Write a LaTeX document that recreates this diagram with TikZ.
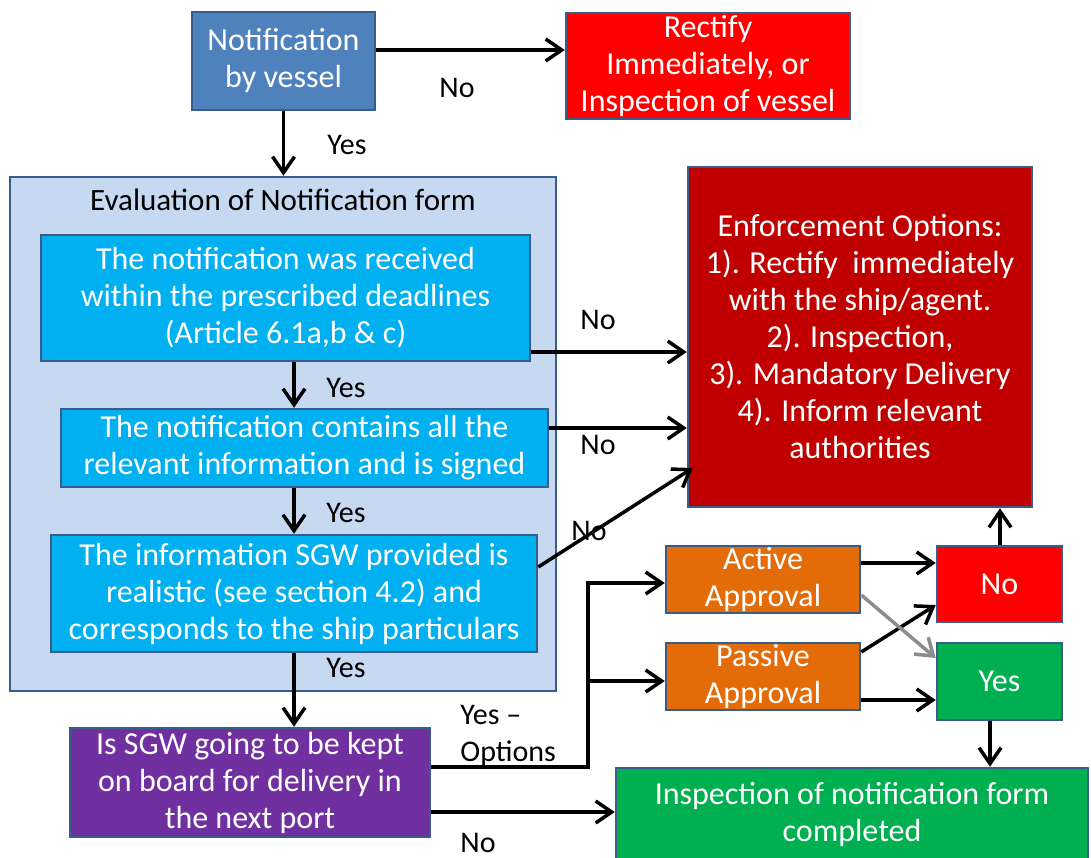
\documentclass[tikz,border=0pt]{standalone}
\usepackage{fontspec}
\setmainfont{Carlito}
\usetikzlibrary{arrows.meta}
\definecolor{bord}{RGB}{56,93,138}
\definecolor{nvblue}{RGB}{79,129,189}
\definecolor{evalbg}{RGB}{198,217,241}
\definecolor{cyanbx}{RGB}{0,176,240}
\definecolor{purbx}{RGB}{112,48,160}
\definecolor{darkred}{RGB}{192,0,0}
\definecolor{orangebx}{RGB}{227,108,9}
\definecolor{greenbx}{RGB}{0,176,80}
\definecolor{grayarr}{RGB}{140,140,140}
\newcommand\bxf{\fontsize{16}{18.5}\selectfont}
\newcommand\lbf{\fontsize{15}{18.5}\selectfont}
\newcommand\evtf{\fontsize{15.5}{18}\selectfont}
\tikzset{
  box/.style={draw=bord, line width=1.25pt, inner sep=0pt, align=center, text=white, font=\bxf},
  lbl/.style={inner sep=0pt, font=\lbf, text=black, align=left},
  arr/.style={line width=1.75pt, -{Straight Barb[length=8pt,width=11pt]}},
  garr/.style={arr, draw=grayarr},
}
\begin{document}
\begin{tikzpicture}[x=0.5pt,y=-0.5pt]
\useasboundingbox (0,0) rectangle (1091,857);
\clip (0,0) rectangle (1091,857);
\fill[white] (0,0) rectangle (1091,857);

\node[box, fill=nvblue, minimum width=91.5pt, minimum height=49pt] (nv) at (283.5,61) {Notification\\by vessel};
\node[box, fill=red, minimum width=142pt, minimum height=53pt] (rect) at (708,66) {Rectify\\Immediately, or\\Inspection of vessel};

\node[box, fill=evalbg, minimum width=273pt, minimum height=257pt] (eval) at (283,434) {};
\node[inner sep=0pt, font=\evtf, text=black] (evt) at (283,200) {Evaluation of Notification form};

\node[box, fill=cyanbx, minimum width=244.5pt, minimum height=63pt] (b1) at (285.5,298) {The notification was received\\within the prescribed deadlines\\(Article 6.1a,b \& c)};
\node[box, fill=cyanbx, minimum width=243.5pt, minimum height=39pt] (b2) at (304.5,448) {The notification contains all the\\relevant information and is signed};
\node[box, fill=cyanbx, minimum width=243pt, minimum height=58.5pt] (b3) at (294,593.5) {The information SGW provided is\\realistic (see section 4.2) and\\corresponds to the ship particulars};

\node[box, fill=purbx, minimum width=180pt, minimum height=54.5pt] (pur) at (250,782.5) {Is SGW going to be kept\\on board for delivery in\\the next port};

\node[box, fill=darkred, minimum width=172pt, minimum height=170pt] (enf) at (860,337) {Enforcement Options:\\1). Rectify\ \ immediately\\with the ship/agent.\\2). Inspection,\\3). Mandatory Delivery\\4). Inform relevant\\authorities};

\node[box, fill=orangebx, minimum width=97pt, minimum height=33.5pt] (act) at (763,579.5) {Active\\Approval};
\node[box, fill=orangebx, minimum width=97pt, minimum height=33.5pt] (pas) at (763,676.5) {Passive\\Approval};
\node[box, fill=red, minimum width=62.5pt, minimum height=38pt] (no) at (999.5,584) {No};
\node[box, fill=greenbx, minimum width=62.5pt, minimum height=38.5pt] (yes) at (999.5,681.5) {Yes};
\node[box, fill=greenbx, minimum width=236pt, minimum height=46pt] (insp) at (852,814) {Inspection of notification form\\completed};

\coordinate (cx) at (294,0);
\coordinate (j1) at (588,767);
\coordinate (j2) at (588,583);
\coordinate (j3) at (588,681);

\draw[arr] (nv.east |- 0,50) -- (rect.west |- 0,50);
\draw[arr] (nv.south) -- (nv.south |- eval.north);
\draw[arr] (b1.east |- 0,352) -- (enf.west |- 0,352);
\draw[arr] (b2.east |- 0,428) -- (enf.west |- 0,428);
\draw[arr] (b3.east |- 0,567) -- ([xshift=3pt]enf.west |- 0,468);
\draw[arr] (b1.south -| cx) -- (b2.north -| cx);
\draw[arr] (b2.south -| cx) -- (b3.north -| cx);
\draw[arr] (b3.south -| cx) -- (pur.north -| cx);
\draw[arr] (pur.east |- j1) -- (j1) -- (j2) -- (act.west |- j2);
\draw[arr] (j3) -- (pas.west |- j3);
\draw[arr] (pur.east |- 0,812) -- (insp.west |- 0,812);
\draw[arr] (act.east |- 0,563) -- (no.west |- 0,563);
\draw[arr] (pas.east |- 0,700) -- (yes.west |- 0,700);
\draw[arr] (pas.east |- 0,652) -- (no.west |- 0,605);
\draw[garr] (act.east |- 0,595) -- (yes.west |- 0,658);
\draw[arr] (yes.south -| 990,0) -- (insp.north -| 990,0);
\draw[arr] (no.north -| 1000,0) -- (enf.south -| 1000,0);

\node[lbl] (l1) at (457,88) {No};
\node[lbl] (l2) at (347,145) {Yes};
\node[lbl] (l3) at (346,388) {Yes};
\node[lbl] (l4) at (346,513) {Yes};
\node[lbl] (l5) at (346,668) {Yes};
\node[lbl] (l6) at (598,320) {No};
\node[lbl] (l7) at (598,445) {No};
\node[lbl] (l8) at (589,531) {No};
\node[lbl, anchor=west] (l9) at (460,736) {Yes –\\Options};
\node[lbl] (l10) at (478,843) {No};
\end{tikzpicture}
\end{document}
